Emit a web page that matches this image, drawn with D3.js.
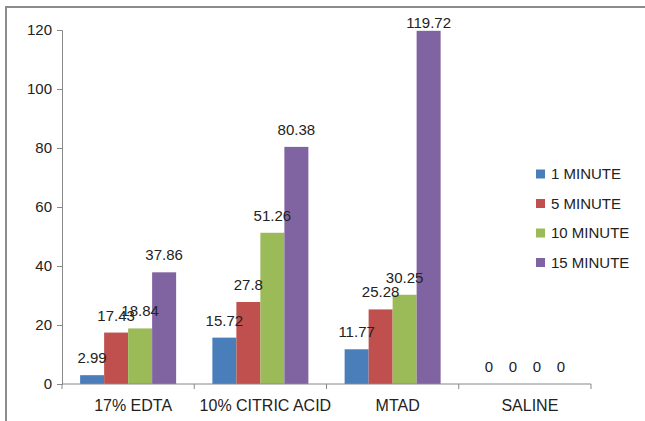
<!DOCTYPE html>
<html lang="en">
<head>
  <meta charset="UTF-8">
  <title>Grouped Bar Chart</title>
  <script src="https://d3js.org/d3.v7.min.js"></script>
  <style>
    body { margin: 0; background: #fff; }
    text { font-family: "Liberation Sans", Arial, sans-serif; fill: #222; }
  </style>
</head>
<body>

<div id="chart"></div>

<script>
// Data
const categories = ['17% EDTA', '10% CITRIC ACID', 'MTAD', 'SALINE'];
const seriesNames = ['1 MINUTE', '5 MINUTE', '10 MINUTE', '15 MINUTE'];
const min1  = [2.99, 15.72, 11.77, 0];
const min5  = [17.43, 27.8, 25.28, 0];
const min10 = [18.84, 51.26, 30.25, 0];
const min15 = [37.86, 80.38, 119.72, 0];
const yTicks = [0, 20, 40, 60, 80, 100, 120];
const colors = ['#4a7ebb', '#c0504d', '#9bbb59', '#8064a2'];

const seriesValues = [min1, min5, min10, min15];

const width = 645;
const height = 421;

const svg = d3.select("#chart")
  .append("svg")
  .attr("width", width)
  .attr("height", height);

// outer frame (runs off right and bottom)
svg.append("rect")
  .attr("x", 6).attr("y", 7)
  .attr("width", 700).attr("height", 500)
  .attr("fill", "none")
  .attr("stroke", "#8c8c8c")
  .attr("stroke-width", 2);

// scales
const x0 = d3.scaleBand().domain(categories).range([62, 591]).padding(0);
const x1 = d3.scaleBand().domain(seriesNames)
  .range([0, x0.bandwidth()])
  .paddingInner(0).paddingOuter(0.755);
const y = d3.scaleLinear().domain([0, 120]).range([384, 30]);

const axisColor = '#888';

// y axis
const yAxis = svg.append("g")
  .attr("transform", "translate(62,0)")
  .call(d3.axisLeft(y).tickValues(yTicks).tickSize(5).tickPadding(5));
yAxis.select(".domain").attr("stroke", axisColor);
yAxis.selectAll(".tick line").attr("stroke", axisColor);
yAxis.selectAll(".tick text")
  .style("font-size", "15px")
  .attr("fill", "#222")
  .style("font-family", '"Liberation Sans", Arial, sans-serif');

// bars
const rows = categories.map((c, i) => ({
  category: c,
  values: seriesNames.map((s, j) => ({ series: s, value: seriesValues[j][i], k: j }))
}));

const groups = svg.selectAll("g.group")
  .data(rows)
  .enter()
  .append("g")
  .attr("class", "group")
  .attr("transform", d => `translate(${x0(d.category)},0)`);

groups.selectAll("rect")
  .data(d => d.values)
  .enter()
  .append("rect")
  .attr("x", d => x1(d.series))
  .attr("y", d => y(d.value))
  .attr("width", x1.bandwidth())
  .attr("height", d => y(0) - y(d.value))
  .attr("fill", d => colors[d.k]);

groups.selectAll("text.val")
  .data(d => d.values)
  .enter()
  .append("text")
  .attr("class", "val")
  .attr("x", d => x1(d.series) + x1.bandwidth() / 2)
  .attr("y", d => Math.max(y(d.value) - 12, 28))
  .attr("text-anchor", "middle")
  .style("font-size", "15px")
  .text(d => d.value);

// x axis
const xAxis = svg.append("g")
  .attr("transform", "translate(0,384)")
  .call(d3.axisBottom(x0).tickSize(0).tickPadding(0));
xAxis.select(".domain").attr("stroke", axisColor).attr("d", "M62,0H591");
xAxis.selectAll(".tick text").remove();

// category dividers
const edges = categories.map(c => x0(c)).concat([x0(categories[3]) + x0.bandwidth()]);
xAxis.selectAll("line.div")
  .data(edges)
  .enter()
  .append("line")
  .attr("class", "div")
  .attr("x1", d => d).attr("x2", d => d)
  .attr("y1", 0).attr("y2", 5)
  .attr("stroke", axisColor);

xAxis.selectAll("text.cat")
  .data(categories)
  .enter()
  .append("text")
  .attr("class", "cat")
  .attr("x", d => x0(d) + x0.bandwidth() / 2 + 5)
  .attr("y", 27)
  .attr("text-anchor", "middle")
  .style("font-size", "16px")
  .text(d => d);

// legend
const legend = svg.append("g").attr("transform", "translate(536,169)");
const items = legend.selectAll("g")
  .data(seriesNames)
  .enter()
  .append("g")
  .attr("transform", (d, i) => `translate(0,${i * 29.5})`);
items.append("rect")
  .attr("width", 9).attr("height", 9)
  .attr("y", 0.5)
  .attr("fill", (d, i) => colors[i]);
items.append("text")
  .attr("x", 15)
  .attr("y", 10)
  .style("font-size", "15px")
  .text(d => d);
</script>

</body>
</html>
